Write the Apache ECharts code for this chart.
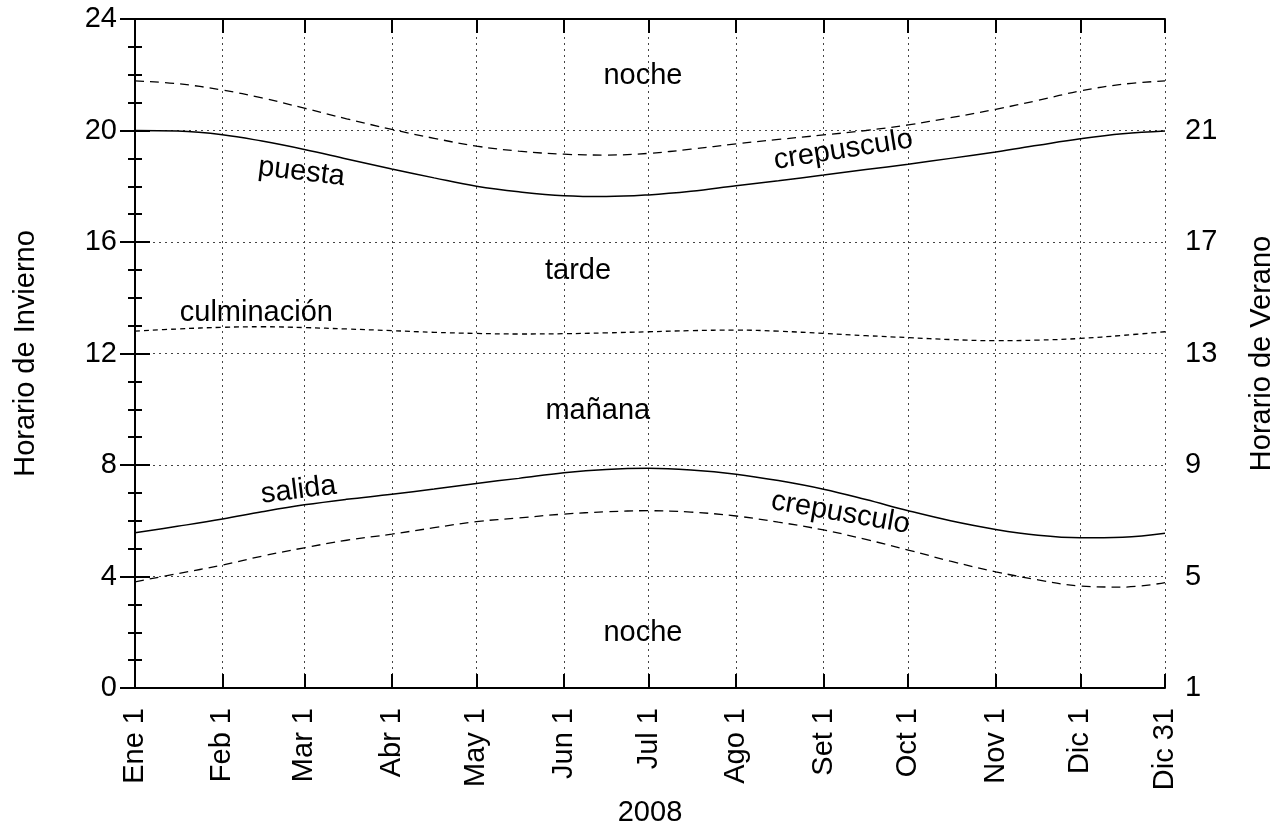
<!DOCTYPE html>
<html>
<head>
<meta charset="utf-8">
<script src="https://cdn.jsdelivr.net/npm/echarts@6/dist/echarts.min.js"></script>
<style>
html,body{margin:0;padding:0;background:#fff;}
#chart{width:1287px;height:835px;}
</style>
</head>
<body>
<div id="chart"></div>
<script>
// Day of year 2008 (0 = Ene 1, 365 = Dic 31)
const days = [0,15,31,45,60,75,91,106,121,136,152,167,182,197,213,228,244,259,274,289,305,320,335,350,365];
// Winter-time hours
const sunset   = [20.0,19.98,19.85,19.62,19.32,18.98,18.62,18.3,18.0,17.8,17.66,17.63,17.69,17.82,18.02,18.2,18.4,18.6,18.79,19.0,19.23,19.47,19.70,19.88,19.98];
const dusk     = [21.78,21.68,21.45,21.17,20.80,20.42,20.04,19.72,19.44,19.26,19.15,19.12,19.18,19.33,19.52,19.68,19.84,20.0,20.20,20.46,20.76,21.08,21.42,21.66,21.78];
const noon     = [12.80,12.88,12.94,12.96,12.93,12.88,12.82,12.76,12.72,12.70,12.71,12.74,12.78,12.82,12.84,12.80,12.72,12.64,12.57,12.50,12.46,12.48,12.54,12.65,12.78];
const sunrise  = [5.57,5.80,6.06,6.32,6.57,6.77,6.95,7.14,7.34,7.52,7.72,7.84,7.88,7.82,7.67,7.44,7.13,6.76,6.36,6.0,5.69,5.48,5.39,5.41,5.55];
const dawn     = [3.81,4.10,4.41,4.73,5.03,5.30,5.52,5.75,5.97,6.10,6.24,6.32,6.36,6.31,6.17,5.95,5.67,5.33,4.95,4.55,4.17,3.88,3.66,3.62,3.78];

const tickDays   = [0,31,60,91,121,152,182,213,244,274,305,335,365];
const tickLabels = ['Ene 1','Feb 1','Mar 1','Abr 1','May 1','Jun 1','Jul 1','Ago 1','Set 1','Oct 1','Nov 1','Dic 1','Dic 31'];

const annoText = ['noche','noche','tarde','mañana','culminación','salida','puesta','crepusculo','crepusculo'];
const annoDay  = [180,180,157,164,43,58,59,251,250];
const annoHour = [21.96,1.97,14.96,9.94,13.45,7.10,18.51,19.30,6.28];
const annoRot  = [0,0,0,0,0,7,-7,9,-10];

const FONT = 'Liberation Sans, Arial, Helvetica, sans-serif';
const FS = 29;
const pair = arr => days.map((d,i)=>[d, arr[i]]);

const chart = echarts.init(document.getElementById('chart'));
const lineBase = {type:'line', showSymbol:false, smooth:0.4, silent:true, xAxisIndex:0, yAxisIndex:0};

const option = {
  animation:false,
  backgroundColor:'#fff',
  grid:{left:135, right:122, top:19, bottom:147, containLabel:false},
  xAxis:[{
    type:'value', min:0, max:365, position:'bottom',
    name:'2008', nameLocation:'middle', nameGap:110,
    nameTextStyle:{fontFamily:FONT, fontSize:FS, color:'#000'},
    axisLine:{show:true, lineStyle:{color:'#000', width:2}},
    axisTick:{show:true, inside:true, length:14, customValues:tickDays, lineStyle:{color:'#000', width:2}},
    axisLabel:{show:true, rotate:90, margin:20, customValues:tickDays, fontFamily:FONT, fontSize:FS, color:'#000',
      formatter:v=>{const i=tickDays.indexOf(Math.round(v)); return i>=0?tickLabels[i]:'';}},
    splitLine:{show:true, lineStyle:{color:'#444', width:1, type:[2,4]}}
  },{
    type:'value', min:0, max:365, position:'top',
    axisLine:{show:true, lineStyle:{color:'#000', width:2}},
    axisTick:{show:true, inside:true, length:14, customValues:tickDays, lineStyle:{color:'#000', width:2}},
    axisLabel:{show:false},
    splitLine:{show:false}
  }],
  yAxis:[{
    type:'value', min:0, max:24, interval:4, position:'left',
    name:'Horario de Invierno', nameLocation:'middle', nameGap:95,
    nameTextStyle:{fontFamily:FONT, fontSize:FS, color:'#000'},
    axisLine:{show:true, lineStyle:{color:'#000', width:2}},
    axisTick:{show:true, inside:true, length:15, lineStyle:{color:'#000', width:2}},
    minorTick:{show:true, splitNumber:4, length:7, lineStyle:{color:'#000', width:2}},
    axisLabel:{fontFamily:FONT, fontSize:FS, color:'#000', margin:18},
    splitLine:{show:true, lineStyle:{color:'#444', width:1, type:[2,4]}}
  },{
    type:'value', min:1, max:25, interval:4, position:'right',
    name:'Horario de Verano', nameLocation:'middle', nameGap:82,
    nameTextStyle:{fontFamily:FONT, fontSize:FS, color:'#000'},
    axisLine:{show:true, lineStyle:{color:'#000', width:2}},
    axisTick:{show:true, inside:true, length:15, lineStyle:{color:'#000', width:2}},
    minorTick:{show:true, splitNumber:4, length:7, lineStyle:{color:'#000', width:2}},
    axisLabel:{fontFamily:FONT, fontSize:FS, color:'#000', margin:20, formatter:v=>v>=25?'':String(v)},
    splitLine:{show:false}
  }],
  series:[
    Object.assign({}, lineBase, {name:'crepusculo tarde', data:pair(dusk), lineStyle:{color:'#000', width:1.3, type:[9,6]}}),
    Object.assign({}, lineBase, {name:'puesta', data:pair(sunset), lineStyle:{color:'#000', width:1.5, type:'solid'}}),
    Object.assign({}, lineBase, {name:'culminación', data:pair(noon), lineStyle:{color:'#000', width:1.3, type:[5,4]}}),
    Object.assign({}, lineBase, {name:'salida', data:pair(sunrise), lineStyle:{color:'#000', width:1.5, type:'solid'}}),
    Object.assign({}, lineBase, {name:'crepusculo mañana', data:pair(dawn), lineStyle:{color:'#000', width:1.3, type:[9,6]}}),
    {
      type:'scatter', silent:true, symbolSize:0, xAxisIndex:0, yAxisIndex:0,
      itemStyle:{color:'#fff', opacity:1},
      data: annoText.map((t,i)=>({
        value:[annoDay[i], annoHour[i]],
        label:{show:true, position:'inside', formatter:t, rotate:annoRot[i],
               fontFamily:FONT, fontSize:FS, color:'#000',
               textBorderWidth:0, textBorderColor:'transparent'}
      }))
    }
  ]
};
chart.setOption(option);
</script>
</body>
</html>
